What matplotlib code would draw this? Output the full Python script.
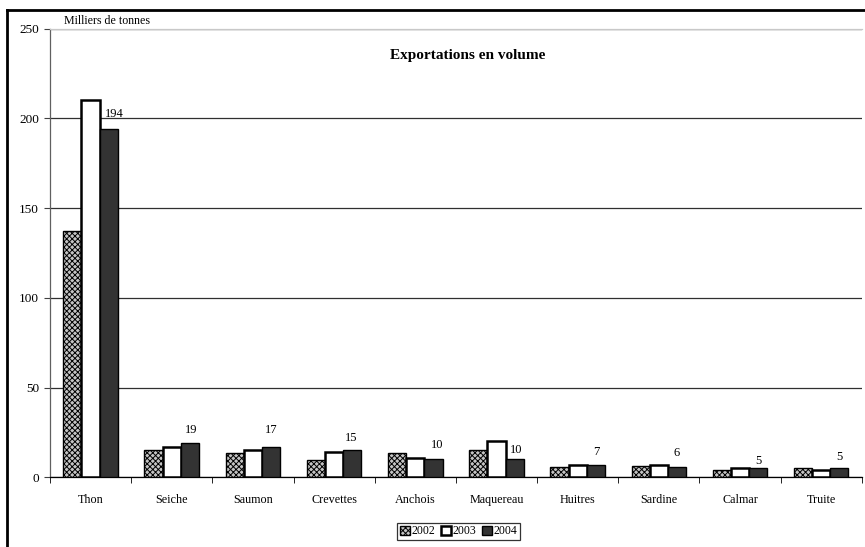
import matplotlib
matplotlib.use("Agg")
import matplotlib.pyplot as plt
import numpy as np
from matplotlib.lines import Line2D

plt.rcParams['font.family'] = ['Liberation Serif', 'DejaVu Serif']
plt.rcParams['hatch.linewidth'] = 0.7

categories = ["Thon", "Seiche", "Saumon", "Crevettes", "Anchois",
              "Maquereau", "Huitres", "Sardine", "Calmar", "Truite"]
years = ["2002", "2003", "2004"]
vol_2002 = [137, 15, 13.7, 9.6, 13.7, 15, 5.9, 6.1, 4.1, 5]
vol_2003 = [210, 16.7, 15, 13.9, 10.9, 20.2, 6.7, 6.7, 5.2, 4.1]
vol_2004 = [194, 19, 17, 15, 10, 10, 7, 6, 5, 5]
yticks = [0, 50, 100, 150, 200, 250]

# label offsets in pixels (dx, dy) above each 2004 bar
label_offsets = [(6, 9), (1, 7), (0, 11), (-1, 6), (4, 8),
                 (2, 3), (1, 7), (0, 8), (0, 1), (0, 5)]

fig = plt.figure(figsize=(8.65, 5.47), dpi=100)
W, H = 865, 547
ax = fig.add_axes([50 / W, 1 - 477.3 / H, (861.7 - 50) / W, (477.3 - 28.7) / H])

x = np.arange(len(categories))
bw = 0.224
series = [vol_2002, vol_2003, vol_2004]
styles = [
    dict(facecolor='#c4c4c4', edgecolor='black', hatch='xxxxxx', linewidth=1.0),
    dict(facecolor='white', edgecolor='black', linewidth=1.8),
    dict(facecolor='#333333', edgecolor='black', linewidth=1.0),
]
for i, (vals, st, yr) in enumerate(zip(series, styles, years)):
    ax.bar(x + (i - 1) * bw, vals, width=bw, label=yr, zorder=3, **st)

for xi, v, (dx, dy) in zip(x, vol_2004, label_offsets):
    ax.annotate(f"{v:g}", xy=(xi + bw, v), xytext=(dx, dy),
                textcoords='offset pixels', ha='center', va='bottom',
                fontsize=9, zorder=4)

ax.set_xlim(-0.5, len(categories) - 0.5)
ax.set_ylim(0, 250)
ax.set_yticks(yticks)
ax.set_yticklabels([str(t) for t in yticks], fontsize=9.5)
ax.yaxis.grid(True, color='#303030', linewidth=0.9, zorder=0)
ax.set_axisbelow(True)

ax.set_xticks(x)
ax.set_xticklabels(categories, fontsize=8.7)
ax.tick_params(axis='x', length=0, pad=12)
ax.set_xticks(np.arange(len(categories) + 1) - 0.5, minor=True)
ax.tick_params(axis='x', which='minor', length=4, direction='out', color='black')
ax.tick_params(axis='y', length=4, direction='out', color='#404040', pad=4)

ax.spines['right'].set_visible(False)
ax.spines['top'].set_color('#c8c8c8')
ax.spines['top'].set_linewidth(0.9)
ax.spines['left'].set_color('#606060')
ax.spines['left'].set_linewidth(0.9)
ax.spines['bottom'].set_color('black')
ax.spines['bottom'].set_linewidth(0.9)

ax.text(0.017, 1.003, "Milliers de tonnes", transform=ax.transAxes,
        fontsize=8.6, va='bottom', ha='left')
ax.text(0.515, 0.94, "Exportations en volume", transform=ax.transAxes,
        fontsize=11, fontweight='bold', ha='center', va='center')

leg = fig.legend(loc='center', bbox_to_anchor=(458.8 / W, 1 - 531.5 / H),
                 ncol=3, fontsize=8.5, frameon=True, fancybox=False,
                 handlelength=0.8, handleheight=0.8, handletextpad=0.15,
                 columnspacing=0.5, borderpad=0.25, borderaxespad=0)
leg.get_frame().set_edgecolor('black')
leg.get_frame().set_linewidth(0.9)

# outer chart frame
fig.add_artist(Line2D([7 / W, 1.0], [1 - 10 / H, 1 - 10 / H],
                      transform=fig.transFigure, color='black', linewidth=2))
fig.add_artist(Line2D([7 / W, 7 / W], [0.0, 1 - 10 / H],
                      transform=fig.transFigure, color='black', linewidth=2))

fig.savefig("out.png", dpi=100)
